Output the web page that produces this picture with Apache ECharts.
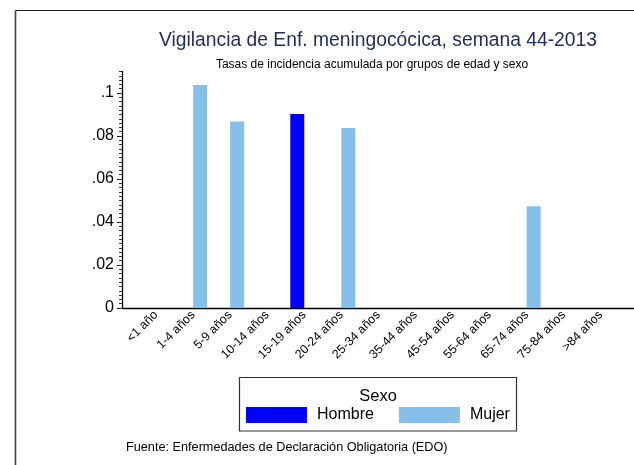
<!DOCTYPE html>
<html>
<head>
<meta charset="utf-8">
<title>Vigilancia de Enf. meningocócica</title>
<script src="https://cdn.jsdelivr.net/npm/echarts@6/dist/echarts.min.js"></script>
<style>
  html, body { margin: 0; padding: 0; background: #fff; }
  #chart { width: 634px; height: 465px; }
</style>
</head>
<body>
<div id="chart"></div>
<script>
// age groups and rates
const ageGroups = ['<1 año', '1-4 años', '5-9 años', '10-14 años', '15-19 años', '20-24 años',
  '25-34 años', '35-44 años', '45-54 años', '55-64 años', '65-74 años', '75-84 años', '>84 años'];
const hombre = [null, null, null, null, 0.0902, null, null, null, null, null, null, null, null];
const mujer = [null, 0.1037, 0.0867, null, null, 0.0837, null, null, null, null, 0.0473, null, null];
const yTicks = [0, 0.02, 0.04, 0.06, 0.08, 0.1];

const FONT = 'Liberation Sans, Arial, sans-serif';
const fmt = v => v === 0 ? '0' : String(+v.toFixed(2)).replace(/^0/, '');

const chart = echarts.init(document.getElementById('chart'), null, { renderer: 'canvas' });

const option = {
  backgroundColor: '#fff',
  animation: false,
  textStyle: { fontFamily: FONT },
  title: [
    {
      text: 'Vigilancia de Enf. meningocócica, semana 44-2013',
      left: 373, top: 26, textAlign: 'center',
      textStyle: { fontSize: 19.3, fontWeight: 'normal', color: '#1e2b5c', fontFamily: FONT }
    },
    {
      text: 'Tasas de incidencia acumulada por grupos de edad y sexo',
      left: 367, top: 54, textAlign: 'center',
      textStyle: { fontSize: 12, fontWeight: 'normal', color: '#000', fontFamily: FONT }
    },
    {
      text: 'Sexo',
      left: 373, top: 383, textAlign: 'center',
      textStyle: { fontSize: 16.5, fontWeight: 'normal', color: '#000', fontFamily: FONT }
    },
    {
      text: 'Fuente: Enfermedades de Declaración Obligatoria (EDO)',
      left: 121, top: 436,
      textStyle: { fontSize: 12.7, fontWeight: 'normal', color: '#000', fontFamily: FONT }
    }
  ],
  legend: {
    data: ['Hombre', 'Mujer'],
    left: 241, top: 402,
    itemWidth: 61, itemHeight: 16, itemGap: 25,
    textStyle: { fontSize: 16, color: '#000', fontFamily: FONT, padding: [0, 0, 0, 5] },
    icon: 'rect'
  },
  grid: [
    // axes frame (y axis + long x axis line)
    { left: 122, right: 0, top: 71.5, bottom: 157 },
    // bars
    { left: 137.5, width: 481.8, top: 71.5, bottom: 157 }
  ],
  xAxis: [
    {
      gridIndex: 0, type: 'value', min: 0, max: 1,
      axisLine: { show: true, onZero: false, lineStyle: { color: '#000', width: 1.3 } },
      axisTick: { show: false }, axisLabel: { show: false }, splitLine: { show: false }
    },
    {
      gridIndex: 1, type: 'category', data: ageGroups,
      axisLine: { show: false }, axisTick: { show: false }, splitLine: { show: false },
      axisLabel: { rotate: 45, fontSize: 12.4, color: '#000', margin: 5, interval: 0, fontFamily: FONT }
    }
  ],
  yAxis: [
    {
      gridIndex: 0, type: 'value', min: 0, max: 0.11,
      axisLine: { show: true, lineStyle: { color: '#000', width: 1.3 } },
      axisTick: { show: true, length: 5, customValues: yTicks, lineStyle: { color: '#000' } },
      axisLabel: { customValues: yTicks, formatter: fmt, fontSize: 16, color: '#000', margin: 8, fontFamily: FONT },
      splitLine: { show: false }
    },
    {
      // minor ticks
      gridIndex: 0, type: 'value', min: 0, max: 0.11, interval: 0.002, position: 'left',
      axisLine: { show: false },
      axisTick: { show: true, length: 3, lineStyle: { color: '#333' } },
      axisLabel: { show: false }, splitLine: { show: false }
    },
    {
      gridIndex: 1, type: 'value', min: 0, max: 0.11, show: false
    }
  ],
  series: [
    {
      name: 'Hombre', type: 'bar', xAxisIndex: 1, yAxisIndex: 2,
      data: hombre, barWidth: 14, barGap: '0%',
      itemStyle: { color: '#0000ff' }
    },
    {
      name: 'Mujer', type: 'bar', xAxisIndex: 1, yAxisIndex: 2,
      data: mujer, barWidth: 14, barGap: '0%',
      itemStyle: { color: '#86bfea' }
    }
  ],
  graphic: [
    // outer frame (top + left edges)
    { type: 'line', shape: { x1: 15.5, y1: 10.5, x2: 634, y2: 10.5 }, style: { stroke: '#222', lineWidth: 1.2 } },
    { type: 'line', shape: { x1: 15.5, y1: 10.5, x2: 15.5, y2: 465 }, style: { stroke: '#444', lineWidth: 1.6 } },
    // legend box
    { type: 'rect', shape: { x: 239.5, y: 377.5, width: 277, height: 53.5 }, style: { fill: 'none', stroke: '#333', lineWidth: 1.2 }, z: -1 }
  ]
};

chart.setOption(option);
</script>
</body>
</html>
